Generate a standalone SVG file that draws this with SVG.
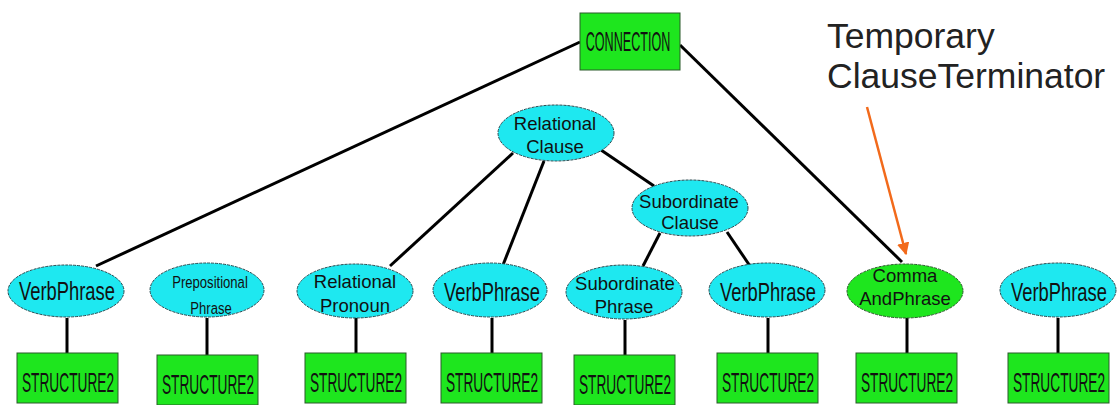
<svg xmlns="http://www.w3.org/2000/svg" width="1120" height="405" viewBox="0 0 1120 405">
<defs>
<marker id="arr" viewBox="0 0 10 10" refX="9" refY="5" markerWidth="5" markerHeight="5" orient="auto" markerUnits="strokeWidth">
<path d="M0,0 L10,5 L0,10 z" fill="#f26a1b"/>
</marker>
</defs>
<style>
.box{fill:#1ee61e;stroke:#2a5a2a;stroke-width:1}
.cy{fill:#1ee8f0;stroke:#2a4a50;stroke-width:1;stroke-dasharray:3 1}
.gr{fill:#1ee61e;stroke:#2a5a2a;stroke-width:1;stroke-dasharray:3 1}
.ln{stroke:#000;stroke-width:3;fill:none}
text{font-family:"Liberation Sans",Arial,sans-serif;fill:#111;text-anchor:middle}
.st{font-size:28px}
.vp{font-size:25px}
.n{font-size:18.5px}
.sm{font-size:17px}
.big{font-size:35.5px;text-anchor:start;fill:#222}
</style>
<rect width="1120" height="405" fill="#fff"/>
<g id="connectors">
<line class="ln" x1="580" y1="42" x2="96" y2="266"/>
<line class="ln" x1="680" y1="45" x2="902" y2="262"/>
<line class="ln" x1="513" y1="153" x2="390" y2="266"/>
<line class="ln" x1="544" y1="161" x2="503" y2="265"/>
<line class="ln" x1="601" y1="150" x2="654" y2="186"/>
<line class="ln" x1="660" y1="233" x2="643" y2="266"/>
<line class="ln" x1="727" y1="232" x2="750" y2="266"/>
<line class="ln" x1="67" y1="318" x2="67" y2="353"/>
<line class="ln" x1="207" y1="318" x2="207" y2="355"/>
<line class="ln" x1="356" y1="318" x2="356" y2="353"/>
<line class="ln" x1="492" y1="318" x2="492" y2="353"/>
<line class="ln" x1="625" y1="320" x2="625" y2="355"/>
<line class="ln" x1="768" y1="318" x2="768" y2="353"/>
<line class="ln" x1="907" y1="318" x2="907" y2="353"/>
<line class="ln" x1="1058" y1="318" x2="1058" y2="353"/>
<line x1="867" y1="107" x2="906" y2="254" stroke="#f26a1b" stroke-width="2.5" marker-end="url(#arr)"/>
</g>
<g id="label-temporary">
<text class="big" x="827" y="48">Temporary</text>
<text class="big" x="827" y="88">ClauseTerminator</text>
</g>
<g id="connection">
<rect class="box" x="580" y="13" width="100" height="57"/>
<text class="st" transform="translate(628,51) scale(0.45,1)">CONNECTION</text>
</g>
<g id="relational-clause">
<ellipse class="cy" cx="556" cy="133" rx="58" ry="28"/>
<text class="n" x="555" y="130">Relational</text>
<text class="n" x="555" y="153">Clause</text>
</g>
<g id="subordinate-clause">
<ellipse class="cy" cx="690" cy="208" rx="58" ry="28"/>
<text class="n" x="689" y="208">Subordinate</text>
<text class="n" x="690" y="229">Clause</text>
</g>
<g id="verbphrase1">
<ellipse class="cy" cx="66" cy="291" rx="58" ry="26"/>
<text class="vp" transform="translate(67,300) scale(0.735,1)">VerbPhrase</text>
</g>
<g id="prepositional-phrase">
<ellipse class="cy" cx="207" cy="290" rx="57" ry="27"/>
<text class="sm" transform="translate(210,288) scale(0.77,1)">Prepositional</text>
<text class="sm" transform="translate(211,314) scale(0.77,1)">Phrase</text>
</g>
<g id="relational-pronoun">
<ellipse class="cy" cx="355" cy="291" rx="58" ry="27"/>
<text class="n" x="355" y="288">Relational</text>
<text class="n" x="355" y="312">Pronoun</text>
</g>
<g id="verbphrase2">
<ellipse class="cy" cx="490" cy="290" rx="57" ry="27"/>
<text class="vp" transform="translate(492,301) scale(0.735,1)">VerbPhrase</text>
</g>
<g id="subordinate-phrase">
<ellipse class="cy" cx="624" cy="292" rx="58" ry="27"/>
<text class="n" x="625" y="290">Subordinate</text>
<text class="n" x="624" y="313">Phrase</text>
</g>
<g id="verbphrase3">
<ellipse class="cy" cx="767" cy="290" rx="58" ry="27"/>
<text class="vp" transform="translate(768,301) scale(0.735,1)">VerbPhrase</text>
</g>
<g id="comma-and-phrase">
<ellipse class="gr" cx="905" cy="291" rx="58" ry="27"/>
<text class="n" x="905" y="282">Comma</text>
<text class="n" x="905" y="305">AndPhrase</text>
</g>
<g id="verbphrase4">
<ellipse class="cy" cx="1058" cy="290" rx="58" ry="27"/>
<text class="vp" transform="translate(1059,301) scale(0.735,1)">VerbPhrase</text>
</g>
<g id="structure2-1"><rect class="box" x="17" y="353" width="101" height="50"/><text class="st" transform="translate(68,392) scale(0.49,1)">STRUCTURE2</text></g>
<g id="structure2-2"><rect class="box" x="157" y="355" width="101" height="50"/><text class="st" transform="translate(208,394) scale(0.49,1)">STRUCTURE2</text></g>
<g id="structure2-3"><rect class="box" x="305" y="353" width="101" height="50"/><text class="st" transform="translate(356,392) scale(0.49,1)">STRUCTURE2</text></g>
<g id="structure2-4"><rect class="box" x="441" y="353" width="101" height="50"/><text class="st" transform="translate(492,392) scale(0.49,1)">STRUCTURE2</text></g>
<g id="structure2-5"><rect class="box" x="574" y="355" width="101" height="50"/><text class="st" transform="translate(625,394) scale(0.49,1)">STRUCTURE2</text></g>
<g id="structure2-6"><rect class="box" x="717" y="353" width="101" height="50"/><text class="st" transform="translate(768,392) scale(0.49,1)">STRUCTURE2</text></g>
<g id="structure2-7"><rect class="box" x="856" y="353" width="101" height="50"/><text class="st" transform="translate(907,392) scale(0.49,1)">STRUCTURE2</text></g>
<g id="structure2-8"><rect class="box" x="1008" y="353" width="101" height="50"/><text class="st" transform="translate(1059,392) scale(0.49,1)">STRUCTURE2</text></g>
</svg>
